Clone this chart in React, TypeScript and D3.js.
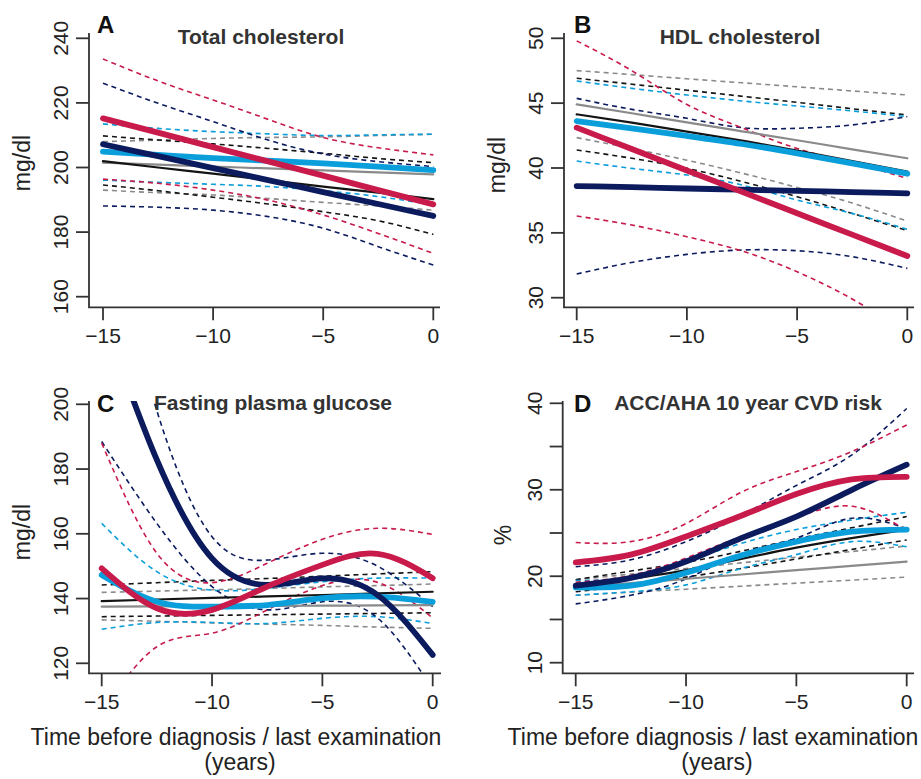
import React from "react";
import * as d3 from "d3";

// time points (years before diagnosis / last examination)
const years = [-15, -12.5, -10, -7.5, -5, -2.5, 0];
const xTicks = [-15, -10, -5, 0];

const groupOrder = ["grey", "black", "lightBlue", "navy", "red"];
const groupColor: Record<string, string> = {
  grey: "#8a8a8a",
  black: "#141414",
  lightBlue: "#0a9edb",
  navy: "#0b1b5e",
  red: "#c81a4b",
};
const groupWidth: Record<string, number> = {
  grey: 2.2,
  black: 2.2,
  lightBlue: 5.8,
  navy: 5.8,
  red: 5.8,
};

// A: total cholesterol (mg/dl)
const tcTicks = [160, 180, 200, 220, 240];
const tcFit = {
  grey: [201.5, 200.9, 200.3, 199.7, 199.1, 198.5, 197.9],
  black: [202.0, 200.0, 198.1, 196.1, 194.1, 192.2, 190.2],
  lightBlue: [204.9, 203.9, 202.9, 202.1, 201.3, 200.3, 199.2],
  navy: [207.2, 203.5, 199.8, 196.1, 192.4, 188.7, 185.0],
  red: [215.2, 210.8, 206.3, 201.9, 197.5, 193.0, 188.6],
};
const tcLower = {
  grey: [193.0, 192.2, 191.5, 190.4, 189.2, 188.1, 186.8],
  black: [194.6, 192.8, 190.8, 188.7, 186.3, 183.5, 179.3],
  lightBlue: [196.1, 195.4, 194.8, 194.1, 192.8, 191.0, 188.4],
  navy: [188.1, 187.7, 186.8, 184.8, 181.2, 175.5, 169.8],
  red: [196.4, 195.1, 193.0, 189.9, 185.3, 179.6, 173.4],
};
const tcUpper = {
  grey: [208.0, 208.5, 209.0, 209.3, 209.5, 209.9, 210.3],
  black: [209.8, 208.5, 207.3, 205.9, 204.4, 202.8, 201.5],
  lightBlue: [213.5, 212.1, 211.1, 210.4, 209.9, 210.1, 210.3],
  navy: [226.1, 219.9, 214.2, 208.5, 204.2, 201.8, 200.3],
  red: [233.6, 226.8, 220.9, 214.9, 209.3, 206.1, 203.9],
};

// B: HDL cholesterol (mg/dl)
const hdlTicks = [30, 35, 40, 45, 50];
const hdlFit = {
  grey: [44.91, 44.22, 43.52, 42.83, 42.14, 41.44, 40.75],
  black: [44.14, 43.5, 42.8, 42.11, 41.34, 40.54, 39.72],
  lightBlue: [43.62, 43.06, 42.47, 41.85, 41.13, 40.36, 39.56],
  navy: [38.61, 38.52, 38.42, 38.33, 38.24, 38.14, 38.05],
  red: [43.11, 41.46, 39.81, 38.16, 36.51, 34.86, 33.21],
};
const hdlLower = {
  grey: [42.34, 41.5, 40.6, 39.6, 38.5, 37.3, 35.9],
  black: [41.39, 40.75, 39.97, 38.95, 37.79, 36.5, 35.17],
  lightBlue: [40.54, 39.97, 39.46, 38.69, 37.53, 36.5, 35.27],
  navy: [31.83, 32.72, 33.34, 33.68, 33.62, 33.16, 32.26],
  red: [36.3, 35.6, 34.7, 33.6, 32.0, 29.9, 27.3],
};
const hdlUpper = {
  grey: [47.51, 47.2, 46.88, 46.57, 46.26, 45.94, 45.63],
  black: [46.92, 46.46, 46.0, 45.53, 45.06, 44.57, 44.09],
  lightBlue: [46.71, 46.14, 45.63, 45.17, 44.78, 44.4, 43.96],
  navy: [45.37, 44.52, 43.83, 43.11, 43.06, 43.32, 43.96],
  red: [49.8, 47.5, 44.9, 43.1, 41.5, 40.4, 39.2],
};

// C: fasting plasma glucose (mg/dl)
const fpgTicks = [120, 140, 160, 180, 200];
const fpgFit = {
  grey: [137.5, 137.6, 137.7, 137.75, 137.8, 137.9, 138.0],
  black: [139.2, 139.7, 140.2, 140.65, 141.1, 141.6, 142.1],
  lightBlue: [147.3, 139.0, 137.5, 138.0, 140.1, 140.6, 139.0],
  navy: [228, 182.8, 152.4, 144.2, 146.2, 141.1, 122.6],
  red: [149.3, 137.0, 136.5, 143.7, 150.4, 153.8, 146.3],
};
const fpgLower = {
  grey: [133.4, 133.0, 132.5, 132.1, 131.7, 131.2, 130.8],
  black: [134.4, 134.6, 134.8, 135.0, 135.2, 135.4, 135.6],
  lightBlue: [130.5, 132.6, 132.6, 132.3, 133.9, 134.4, 132.3],
  navy: [188.5, 163.2, 143.7, 136.5, 139.0, 134.0, 112.0],
  red: [105, 125.1, 129.3, 136.5, 144.0, 145.0, 134.0],
};
const fpgUpper = {
  grey: [141.9, 142.3, 142.7, 143.1, 143.6, 144.0, 144.5],
  black: [144.2, 144.9, 145.6, 146.2, 146.9, 147.6, 148.3],
  lightBlue: [163.2, 148.3, 142.6, 143.2, 145.2, 146.3, 146.3],
  navy: [262, 198, 159.1, 151.9, 154.0, 150.0, 137.5],
  red: [188, 154, 144.9, 150.9, 158.3, 161.7, 159.8],
};

// D: ACC/AHA 10 year CVD risk (%)
const cvdTicks = [10, 15, 20, 25, 30, 35, 40];
const cvdTickLabels = [10, 20, 30, 40];
const cvdFit = {
  grey: [18.7, 19.2, 19.7, 20.2, 20.7, 21.2, 21.7],
  black: [18.8, 19.7, 20.7, 22.0, 23.3, 24.4, 25.4],
  lightBlue: [18.7, 18.9, 20.4, 22.4, 24.0, 25.15, 25.4],
  navy: [18.9, 19.8, 21.7, 24.4, 26.9, 29.97, 32.9],
  red: [21.6, 22.5, 24.6, 27.0, 29.5, 31.2, 31.5],
};
const cvdLower = {
  grey: [17.8, 18.15, 18.5, 18.85, 19.2, 19.55, 19.9],
  black: [18.2, 19.0, 19.9, 20.9, 22.0, 23.1, 24.2],
  lightBlue: [17.8, 18.2, 19.0, 20.9, 22.5, 24.0, 23.4],
  navy: [16.8, 17.8, 19.7, 22.6, 24.4, 26.7, 25.5],
  red: [19.3, 20.1, 22.1, 24.6, 26.8, 28.1, 25.3],
};
const cvdUpper = {
  grey: [19.6, 20.25, 20.9, 21.55, 22.2, 22.85, 23.5],
  black: [19.6, 20.6, 21.6, 22.9, 24.3, 25.6, 26.9],
  lightBlue: [19.5, 19.9, 21.7, 23.8, 25.4, 26.5, 27.4],
  navy: [21.1, 21.9, 24.0, 27.0, 30.5, 34.0, 39.4],
  red: [23.9, 24.0, 26.1, 29.7, 32.1, 34.4, 37.5],
};

const FONT = "'Liberation Sans', Arial, Helvetica, sans-serif";

const panels = [
  {
    id: "A", title: "Total cholesterol", yLabel: "mg/dl",
    fit: tcFit, lower: tcLower, upper: tcUpper,
    ticks: tcTicks, labels: tcTicks, yDomain: [160, 240],
    left: 89, bottom: 307.3, top: 33, right: 440,
    xr: [103, 433.3], yr: [296.7, 38.3],
    titleX: 261, titleY: 44, letterX: 97, letterY: 33,
    yLabX: 30, yLabY: 163, xLabX: null,
  },
  {
    id: "B", title: "HDL cholesterol", yLabel: "mg/dl",
    fit: hdlFit, lower: hdlLower, upper: hdlUpper,
    ticks: hdlTicks, labels: hdlTicks, yDomain: [30, 50],
    left: 564, bottom: 307.3, top: 33, right: 914,
    xr: [576.7, 907.3], yr: [297.7, 38.3],
    titleX: 740, titleY: 44, letterX: 574, letterY: 33,
    yLabX: 505, yLabY: 165, xLabX: null,
  },
  {
    id: "C", title: "Fasting plasma glucose", yLabel: "mg/dl",
    fit: fpgFit, lower: fpgLower, upper: fpgUpper,
    ticks: fpgTicks, labels: fpgTicks, yDomain: [120, 200],
    left: 89, bottom: 673.3, top: 401, right: 441,
    xr: [101.7, 432.7], yr: [663.3, 404.3],
    titleX: 273, titleY: 409.5, letterX: 97, letterY: 412,
    yLabX: 30, yLabY: 532, xLabX: 236,
  },
  {
    id: "D", title: "ACC/AHA 10 year CVD risk", yLabel: "%",
    fit: cvdFit, lower: cvdLower, upper: cvdUpper,
    ticks: cvdTicks, labels: cvdTickLabels, yDomain: [10, 40],
    left: 562.7, bottom: 673.3, top: 401, right: 914,
    xr: [575.7, 906.7], yr: [662.7, 403.3],
    titleX: 748, titleY: 409.5, letterX: 574, letterY: 412,
    yLabX: 511, yLabY: 535, xLabX: 713,
  },
];

function PanelView({ p }: { p: any }) {
  const x = d3.scaleLinear().domain([-15, 0]).range(p.xr);
  const y = d3.scaleLinear().domain(p.yDomain).range(p.yr);
  const line = d3
    .line<number>()
    .x((_, i) => x(years[i]))
    .y((d) => y(d))
    .curve(d3.curveNatural);
  const clipId = `clip-${p.id}`;
  const axisColor = "#333";

  return (
    <g>
      <defs>
        <clipPath id={clipId}>
          <rect x={p.left} y={p.top} width={p.right - p.left + 8} height={p.bottom - p.top} />
        </clipPath>
      </defs>

      <g clipPath={`url(#${clipId})`} fill="none">
        {groupOrder.map((g) => (
          <g key={`ci-${g}`} stroke={groupColor[g]} strokeWidth={1.6} strokeDasharray="5,4">
            <path d={line(p.lower[g]) || ""} />
            <path d={line(p.upper[g]) || ""} />
          </g>
        ))}
        {groupOrder.map((g) => (
          <path
            key={`fit-${g}`}
            d={line(p.fit[g]) || ""}
            stroke={groupColor[g]}
            strokeWidth={groupWidth[g]}
            strokeLinecap="round"
          />
        ))}
      </g>

      {/* L-shaped box */}
      <path
        d={`M${p.left},${p.top}V${p.bottom}H${p.right}`}
        fill="none"
        stroke={axisColor}
        strokeWidth={1.8}
      />

      {/* y axis */}
      {p.ticks.map((t: number) => (
        <line key={`yt-${t}`} x1={p.left} x2={p.left - 13} y1={y(t)} y2={y(t)} stroke={axisColor} strokeWidth={1.8} />
      ))}
      {p.labels.map((t: number) => (
        <text
          key={`yl-${t}`}
          transform={`translate(${p.left - 20.7},${y(t)}) rotate(-90)`}
          textAnchor="middle"
          fontSize={21}
          fill="#222"
        >
          {t}
        </text>
      ))}

      {/* x axis */}
      {xTicks.map((t) => (
        <g key={`xt-${t}`}>
          <line x1={x(t)} x2={x(t)} y1={p.bottom} y2={p.bottom + 13} stroke={axisColor} strokeWidth={1.8} />
          <text x={x(t)} y={p.bottom + 36} textAnchor="middle" fontSize={21} fill="#222">
            {t < 0 ? `\u2212${Math.abs(t)}` : t}
          </text>
        </g>
      ))}

      <text
        transform={`translate(${p.yLabX},${p.yLabY}) rotate(-90)`}
        textAnchor="middle"
        fontSize={23}
        fill="#222"
      >
        {p.yLabel}
      </text>

      <text x={p.letterX} y={p.letterY} fontSize={24} fontWeight="bold" fill="#111">
        {p.id}
      </text>
      <text x={p.titleX} y={p.titleY} textAnchor="middle" fontSize={21} fontWeight="bold" fill="#333">
        {p.title}
      </text>

      {p.xLabX !== null && (
        <g fontSize={23} fill="#222" textAnchor="middle">
          <text x={p.xLabX} y={745}>Time before diagnosis / last examination</text>
          <text x={p.xLabX + 4} y={770}>(years)</text>
        </g>
      )}
    </g>
  );
}

export default function App() {
  return (
    <svg
      width={921}
      height={779}
      viewBox="0 0 921 779"
      style={{ position: "absolute", left: 0, top: 0, background: "#fff" }}
      fontFamily={FONT}
    >
      <rect width={921} height={779} fill="#fff" />
      {panels.map((p) => (
        <PanelView key={p.id} p={p} />
      ))}
    </svg>
  );
}
